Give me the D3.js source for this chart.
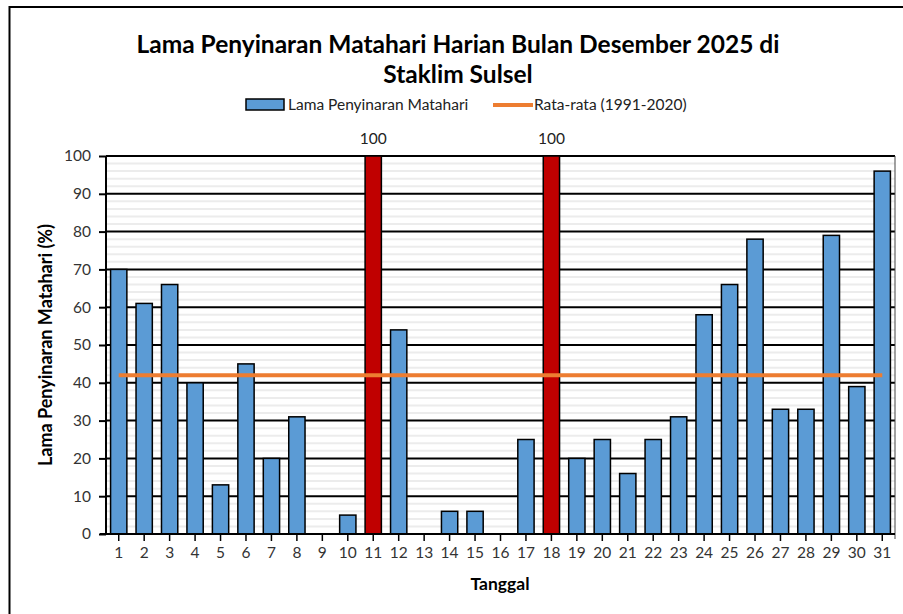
<!DOCTYPE html>
<html>
<head>
<meta charset="utf-8">
<script src="https://cdn.jsdelivr.net/npm/d3@7"></script>
<style>
  body { margin: 0; background: #fff; }
  svg { display: block; font-family: Lato, "Open Sans", sans-serif; }
</style>
</head>
<body>
<svg id="chart"></svg>
<script>
// tanggal (hari) bulan Desember
const days = d3.range(1, 32).map(String);
// lama penyinaran matahari (%)
const sunshine = [70, 61, 66, 40, 13, 45, 20, 31, 0, 5, 100, 54, 0, 6, 6, 0, 25, 100, 20, 25, 16, 25, 31, 58, 66, 78, 33, 33, 79, 39, 96];
// rata-rata 1991-2020
const normal = 42;
const yTicks = [0, 10, 20, 30, 40, 50, 60, 70, 80, 90, 100];

const width = 903, height = 614;
const margin = { top: 156, right: 8, bottom: 80, left: 106 };

const svg = d3.select('#chart').attr('width', width).attr('height', height);

// bingkai luar
svg.append('rect')
    .attr('x', 9.5).attr('y', 7)
    .attr('width', 920).attr('height', 640)
    .attr('fill', 'none').attr('stroke', '#000').attr('stroke-width', 2);

const x = d3.scaleBand().domain(days)
    .range([margin.left, width - margin.right])
    .paddingInner(0.36).paddingOuter(0.18);
const y = d3.scaleLinear().domain([0, 100]).range([height - margin.bottom, margin.top]);

const g = svg.append('g');

// grid minor
g.selectAll('.minor')
    .data(d3.range(0, 101, 2).filter(v => v % 10 != 0))
    .enter().append('line')
    .attr('x1', margin.left).attr('x2', width - margin.right)
    .attr('y1', d => y(d)).attr('y2', d => y(d))
    .attr('stroke', '#ececec').attr('stroke-width', 2);

// grid major
g.selectAll('.major')
    .data(yTicks.slice(1))
    .enter().append('line')
    .attr('x1', margin.left).attr('x2', width - margin.right)
    .attr('y1', d => y(d)).attr('y2', d => y(d))
    .attr('stroke', '#000').attr('stroke-width', 2);

// batas kanan area plot
g.append('line')
    .attr('x1', width - margin.right).attr('x2', width - margin.right)
    .attr('y1', y(100)).attr('y2', y(0) + 5)
    .attr('stroke', '#444').attr('stroke-width', 1);

// batang
g.selectAll('.bar')
    .data(sunshine)
    .enter().append('rect')
    .attr('x', (d, i) => x(days[i]))
    .attr('y', d => y(d))
    .attr('width', x.bandwidth())
    .attr('height', d => y(0) - y(d))
    .attr('fill', d => d >= 100 ? '#c00000' : '#5b9bd5')
    .attr('stroke', '#000').attr('stroke-width', 1.5)
    .style('display', d => d > 0 ? null : 'none');

// label 100
g.selectAll('.lbl')
    .data(sunshine.map((v, i) => [days[i], v]).filter(d => d[1] >= 100))
    .enter().append('text')
    .attr('x', d => x(d[0]) + x.bandwidth() / 2)
    .attr('y', y(100) - 12)
    .attr('text-anchor', 'middle')
    .attr('font-size', 15.5).attr('fill', '#222')
    .text(d => d[1]);

// garis rata-rata
const line = d3.line().x(d => x(d) + x.bandwidth() / 2).y(() => y(normal));
g.append('path')
    .datum(days)
    .attr('d', line)
    .attr('fill', 'none').attr('stroke', '#ed7d31').attr('stroke-width', 4);

// sumbu
const xAxis = g.append('g')
    .attr('transform', `translate(0,${y(0)})`)
    .call(d3.axisBottom(x).tickSize(7).tickPadding(6));
xAxis.select('.domain').attr('stroke', '#000').attr('stroke-width', 2)
    .attr('d', `M${margin.left - 6},0H${width - margin.right}`);
xAxis.selectAll('.tick line').attr('stroke', '#000').attr('stroke-width', 1.5);
xAxis.selectAll('text').attr('font-size', 15.5).attr('fill', '#333').attr('font-family', 'Lato, sans-serif');

const yAxis = g.append('g')
    .attr('transform', `translate(${margin.left},0)`)
    .call(d3.axisLeft(y).tickValues(yTicks).tickSize(7).tickPadding(8));
yAxis.select('.domain').attr('stroke', '#000').attr('stroke-width', 2)
    .attr('d', `M0,${y(100)}V${y(0)}`);
yAxis.selectAll('.tick line').attr('stroke', '#000').attr('stroke-width', 2);
yAxis.selectAll('text').attr('font-size', 15.5).attr('fill', '#333').attr('font-family', 'Lato, sans-serif');

// judul
svg.append('text').attr('x', 458).attr('y', 53)
    .attr('text-anchor', 'middle').attr('font-size', 24.5).attr('font-weight', 'bold')
    .text('Lama Penyinaran Matahari Harian Bulan Desember 2025 di');
svg.append('text').attr('x', 458).attr('y', 83)
    .attr('text-anchor', 'middle').attr('font-size', 24.5).attr('font-weight', 'bold')
    .text('Staklim Sulsel');

// legenda
const leg = svg.append('g').attr('font-size', 15.5).attr('fill', '#222');
leg.append('rect').attr('x', 246).attr('y', 99).attr('width', 38).attr('height', 11)
    .attr('fill', '#5b9bd5').attr('stroke', '#000').attr('stroke-width', 1.5);
leg.append('text').attr('x', 288).attr('y', 110).text('Lama Penyinaran Matahari');
leg.append('line').attr('x1', 493).attr('x2', 533).attr('y1', 105).attr('y2', 105)
    .attr('stroke', '#ed7d31').attr('stroke-width', 4);
leg.append('text').attr('x', 534).attr('y', 110).text('Rata-rata (1991-2020)');

// judul sumbu
svg.append('text')
    .attr('transform', `translate(52,${(y(0) + y(100)) / 2}) rotate(-90)`)
    .attr('text-anchor', 'middle').attr('font-size', 18).attr('font-weight', 'bold')
    .text('Lama Penyinaran Matahari (%)');
svg.append('text')
    .attr('x', 500).attr('y', 590)
    .attr('text-anchor', 'middle').attr('font-size', 17.5).attr('font-weight', 'bold')
    .text('Tanggal');
</script>
</body>
</html>
